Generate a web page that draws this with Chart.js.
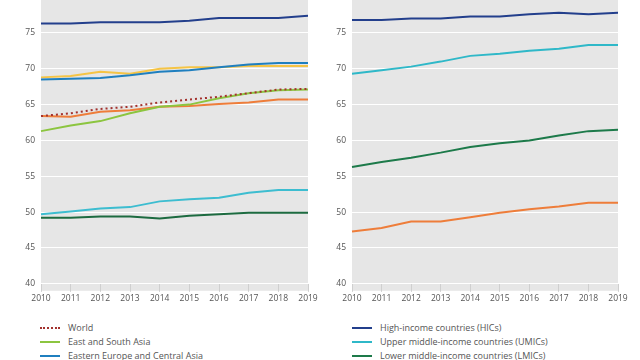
<!DOCTYPE html>
<html>
<head>
<meta charset="utf-8">
<script src="https://cdn.jsdelivr.net/npm/chart.js@4"></script>
<style>
  html, body { margin: 0; padding: 0; background: #fff; }
  body { width: 640px; height: 360px; overflow: hidden; position: relative; font-family: 'Open Sans', sans-serif; }
  .panel { position: absolute; top: 0; width: 320px; height: 360px; }
  .panel canvas { position: absolute; top: -14px; left: 0; }
  .legend { position: absolute; top: 321px; font-size: 9px; color: #555; }
  .legend div { height: 14px; line-height: 14px; white-space: nowrap; position: relative; }
  .legend span.smp { position: absolute; left: 0; top: 6px; width: 20px; height: 0; }
</style>
</head>
<body>
<div class="panel" id="p1" style="left:0"><canvas id="c1" width="320" height="320"></canvas><div class="legend" id="l1" style="left:40px"></div></div>
<div class="panel" id="p2" style="left:320px"><canvas id="c2" width="320" height="320"></canvas><div class="legend" id="l2" style="left:32px"></div></div>
<script>
const years = ['2010','2011','2012','2013','2014','2015','2016','2017','2018','2019']
const yTicks = [40, 45, 50, 55, 60, 65, 70, 75, 80]

// left panel - regions
const regionNames = ['World','East and South Asia','Eastern Europe and Central Asia','Latin America and the Caribbean','Middle East and North Africa','Western Europe and North America','Eastern and Southern Africa','West and Central Africa']
const world      = [63.4,63.8,64.4,64.7,65.3,65.7,66.1,66.6,67.1,67.2]
const eastSouth  = [61.3,62.1,62.7,63.8,64.7,65.0,65.9,66.6,67.0,67.1]
const eeca       = [68.5,68.6,68.7,69.1,69.6,69.8,70.2,70.6,70.8,70.8]
const latam      = [68.8,69.0,69.6,69.3,70.0,70.2,70.2,70.4,70.4,70.4]
const mena       = [63.4,63.3,64.0,64.2,64.7,64.8,65.1,65.3,65.7,65.7]
const weNa       = [76.3,76.3,76.5,76.5,76.5,76.7,77.1,77.1,77.1,77.4]
const esAfrica   = [49.7,50.1,50.5,50.7,51.5,51.8,52.0,52.7,53.1,53.1]
const wcAfrica   = [49.2,49.2,49.4,49.4,49.1,49.5,49.7,49.9,49.9,49.9]
const regionColors = ['#a3322e','#8cc540','#1f7fbf','#f5c445','#ee7d3a','#233f8c','#3dbdd0','#1d6b40']

// right panel - income groups
const incomeNames = ['High-income countries (HICs)','Upper middle-income countries (UMICs)','Lower middle-income countries (LMICs)','Low-income countries (LICs)']
const hic  = [76.8,76.8,77.0,77.0,77.3,77.3,77.6,77.8,77.6,77.8]
const umic = [69.3,69.8,70.3,71.0,71.8,72.1,72.5,72.8,73.3,73.3]
const lmic = [56.3,57.0,57.6,58.3,59.1,59.6,60.0,60.7,61.3,61.5]
const lic  = [47.3,47.8,48.7,48.7,49.3,49.9,50.4,50.8,51.3,51.3]
const incomeColors = ['#233f8c','#2fb8c8','#1d7a4a','#ee7d3a']

const regionData = [world, eastSouth, eeca, latam, mena, weNa, esAfrica, wcAfrica]
const incomeData = [hic, umic, lmic, lic]

// gray plot background, runs a bit below the 40 line like the original
const plotBg = {
    id: 'plotBg',
    beforeDraw(c) {
        const {ctx, chartArea: a} = c
        ctx.save()
        ctx.fillStyle = '#e6e6e6'
        ctx.fillRect(a.left, a.top, a.right - a.left, a.bottom - a.top + 7)
        ctx.restore()
    }
}

const tickFont = {family: "'Open Sans', sans-serif", size: 8.5}

const lineChart = (names, data, colors, yWidth, padRight) => ({
    type: 'line',
    data: {
        labels: years,
        datasets: data.map((d, i) => ({
            label: names[i],
            data: d,
            borderColor: colors[i],
            borderWidth: 2,
            borderDash: names[i] === 'World' ? [2, 3] : [],
            pointRadius: 0,
            tension: 0,
            fill: false
        }))
    },
    options: {
        responsive: false,
        devicePixelRatio: 1,
        animation: false,
        layout: {padding: {left: 0, right: padRight, top: 0, bottom: 0}},
        plugins: {legend: {display: false}, tooltip: {enabled: false}},
        scales: {
            x: {
                grid: {display: true, drawOnChartArea: false, drawTicks: true, tickLength: 8, color: '#cfcfcf'},
                border: {display: false},
                ticks: {color: '#555', font: tickFont, padding: 2, maxRotation: 0, autoSkip: false}
            },
            y: {
                min: 40, max: 80,
                afterBuildTicks: s => { s.ticks = yTicks.map(v => ({value: v})) },
                afterFit: s => { s.width = yWidth },
                grid: {color: '#ffffff', lineWidth: 1, drawTicks: false},
                border: {display: false},
                ticks: {color: '#555', font: tickFont, padding: 6}
            }
        }
    },
    plugins: [plotBg]
})

const legend = (el, names, colors) => {
    names.forEach((n, i) => {
        const row = document.createElement('div')
        const s = document.createElement('span')
        s.className = 'smp'
        s.style.borderTop = n === 'World' ? '2px dotted ' + colors[i] : '2.5px solid ' + colors[i]
        row.appendChild(s)
        const t = document.createElement('span')
        t.style.marginLeft = '28px'
        t.textContent = n
        row.appendChild(t)
        el.appendChild(row)
    })
}

new Chart(document.getElementById('c1'), lineChart(regionNames, regionData, regionColors, 41, 12))
new Chart(document.getElementById('c2'), lineChart(incomeNames, incomeData, incomeColors, 32, 22))
legend(document.getElementById('l1'), regionNames, regionColors)
legend(document.getElementById('l2'), incomeNames, incomeColors)
</script>
</body>
</html>
